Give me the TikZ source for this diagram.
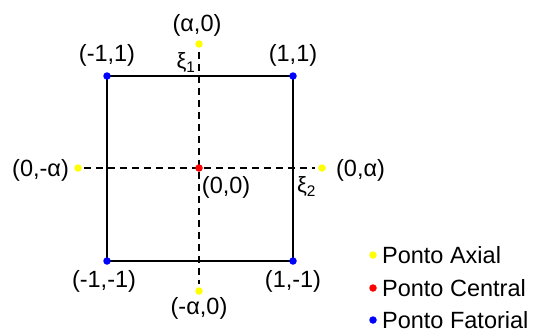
\documentclass[tikz,border=0pt]{standalone}
\usepackage{fontspec}
\setmainfont{Liberation Sans}
\usepackage{tikz}
\usetikzlibrary{positioning,backgrounds}
\definecolor{AxialYellow}{HTML}{FFFF00}
\definecolor{CentralRed}{HTML}{FF0000}
\definecolor{FatorialBlue}{HTML}{0000FF}
\tikzset{
  ponto/.style={circle, inner sep=0pt, minimum size=7.5pt, fill=#1},
  rotulo/.style={inner sep=0pt, font=\fontsize{23.5pt}{26pt}\selectfont},
  eixo/.style={inner sep=0pt, font=\fontsize{22pt}{24pt}\selectfont},
  tracejado/.style={line width=1.4pt, dash pattern=on 7pt off 5pt}
}
\begin{document}
\begin{tikzpicture}[x=1pt,y=-1pt]
  \useasboundingbox (0,0) rectangle (533,332);
  % pontos fatoriais, central e axiais
  \node[ponto=FatorialBlue] (tl) at (107,76) {};
  \node[ponto=FatorialBlue] (tr) at (293,76) {};
  \node[ponto=FatorialBlue] (bl) at (107,261) {};
  \node[ponto=FatorialBlue] (br) at (293,261) {};
  \node[ponto=CentralRed] (cc) at (199,168) {};
  \node[ponto=AxialYellow] (an) at (199,44) {};
  \node[ponto=AxialYellow] (as) at (199,291) {};
  \node[ponto=AxialYellow] (aw) at (78,168) {};
  \node[ponto=AxialYellow] (ae) at (322,168) {};
  \begin{scope}[on background layer]
    \draw[line width=1.8pt] (tl.center) -- (tr.center) -- (br.center) -- (bl.center) -- cycle;
    \draw[tracejado, shorten <=4pt, shorten >=3pt] (an) -- (as);
    \draw[tracejado, shorten <=2pt, shorten >=3pt] (aw) -- (ae);
  \end{scope}
  % rotulos
  \node[rotulo, above=5pt of tl] (ltl) {(-1,1)};
  \node[rotulo, above=5pt of tr] (ltr) {(1,1)};
  \node[rotulo, below=5.5pt of bl, xshift=-3pt] (lbl) {(-1,-1)};
  \node[rotulo, below=5.5pt of br] (lbr) {(1,-1)};
  \node[rotulo, above=3pt of an, xshift=-2pt] (lan) {(α,0)};
  \node[rotulo, below=2pt of as] (las) {(-α,0)};
  \node[rotulo, left=5pt of aw, yshift=-2pt] (law) {(0,-α)};
  \node[rotulo, right=10pt of ae, yshift=-2pt] (lae) {(0,α)};
  \node[rotulo, below right=5pt and 0pt of cc] (lcc) {(0,0)};
  \node[eixo, below left=6pt and 0.5pt of an] (xi1) {ξ\textsubscript{1}};
  \node[eixo, below left=6pt and 3pt of ae] (xi2) {ξ\textsubscript{2}};
  % legenda
  \node[ponto=AxialYellow] (la) at (373,255) {};
  \node[ponto=CentralRed] (lc) at (373,288) {};
  \node[ponto=FatorialBlue] (lf) at (373,320) {};
  \node[rotulo, right=5pt of la] (ta) {Ponto Axial};
  \node[rotulo, right=5pt of lc] (tc) {Ponto Central};
  \node[rotulo, right=5pt of lf] (tf) {Ponto Fatorial};
\end{tikzpicture}
\end{document}
